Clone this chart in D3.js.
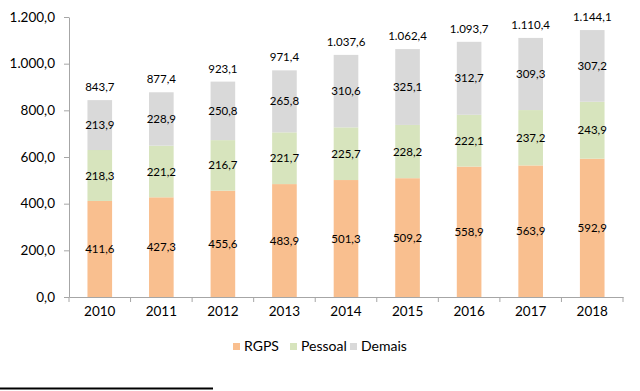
<!DOCTYPE html>
<html><head><meta charset="utf-8">
<script src="https://cdn.jsdelivr.net/npm/d3@7"></script>
<style>body{margin:0;background:#fff}svg{display:block}text{font-family:Lato,"Open Sans",sans-serif}</style>
</head><body>
<svg id="c" width="640" height="391"></svg>
<script>
const years = ["2010","2011","2012","2013","2014","2015","2016","2017","2018"];
const rgps = [411.6,427.3,455.6,483.9,501.3,509.2,558.9,563.9,592.9];
const pessoal = [218.3,221.2,216.7,221.7,225.7,228.2,222.1,237.2,243.9];
const demais = [213.9,228.9,250.8,265.8,310.6,325.1,312.7,309.3,307.2];
const totals = [843.7,877.4,923.1,971.4,1037.6,1062.4,1093.7,1110.4,1144.1];
const seriesNames = ["RGPS","Pessoal","Demais"];
const colors = ["#F9BF8F","#D7E4BD","#D9D9D9"];
const yTicks = [0,200,400,600,800,1000,1200];

const loc = d3.formatLocale({decimal:",",thousands:".",grouping:[3],currency:["R$",""]});
const fmt = loc.format(",.1f");

const svg = d3.select("#c");
const x = d3.scaleBand().domain(years).range([69,623]).paddingInner(0.6).paddingOuter(0.3);
const y = d3.scaleLinear().domain([0,1200]).range([297,17]);

const data = years.map((yr,i)=>({year:yr,RGPS:rgps[i],Pessoal:pessoal[i],Demais:demais[i],total:totals[i]}));
const stack = d3.stack().keys(seriesNames)(data);

// axes
const yAxis = svg.append("g").attr("transform","translate(69,0)")
  .call(d3.axisLeft(y).tickValues(yTicks).tickFormat(fmt).tickSize(5).tickSizeOuter(0));
yAxis.select(".domain").attr("stroke","#A6A6A6");
yAxis.selectAll(".tick line").attr("stroke","#A6A6A6");
yAxis.selectAll(".tick text").attr("font-size",13.5).attr("fill","#000").attr("x",-14);

const xb = d3.scaleBand().domain(years).range([69,623]);
const xAxis = svg.append("g").attr("transform","translate(0,297)")
  .call(d3.axisBottom(xb).tickSize(0));
xAxis.select(".domain").attr("stroke","#A6A6A6");
xAxis.selectAll(".tick text").attr("font-size",13.5).attr("fill","#000").attr("dy","1.2em");
// boundary ticks
svg.append("g").selectAll("line").data(years.concat(["end"])).join("line")
  .attr("x1",(d,i)=>69+i*xb.step()).attr("x2",(d,i)=>69+i*xb.step())
  .attr("y1",297).attr("y2",302).attr("stroke","#A6A6A6");

// bars
const g = svg.append("g");
stack.forEach((s,si)=>{
  g.append("g").selectAll("rect").data(s).join("rect")
    .attr("x",d=>x(d.data.year)).attr("width",x.bandwidth())
    .attr("y",d=>y(d[1])).attr("height",d=>y(d[0])-y(d[1]))
    .attr("fill",colors[si]);
  g.append("g").selectAll("text").data(s).join("text")
    .attr("x",d=>x(d.data.year)+x.bandwidth()/2)
    .attr("y",d=>(y(d[0])+y(d[1]))/2).attr("dy","0.35em")
    .attr("text-anchor","middle").attr("font-size",11.5).attr("fill","#000")
    .text(d=>fmt(d[1]-d[0]));
});
g.append("g").selectAll("text").data(data).join("text")
  .attr("x",d=>x(d.year)+x.bandwidth()/2).attr("y",d=>y(d.total)-13).attr("dy","0.35em")
  .attr("text-anchor","middle").attr("font-size",11.5).attr("fill","#000")
  .text(d=>fmt(d.total));

// legend
const legX = [233,290,350];
const leg = svg.append("g");
seriesNames.forEach((n,i)=>{
  leg.append("rect").attr("x",legX[i]).attr("y",343).attr("width",7).attr("height",7).attr("fill",colors[i]);
  leg.append("text").attr("x",legX[i]+11).attr("y",346.5).attr("dy","0.35em").attr("font-size",14).attr("fill","#000").text(n);
});

// bottom rule
svg.append("line").attr("x1",0).attr("x2",213).attr("y1",388.5).attr("y2",388.5).attr("stroke","#000").attr("stroke-width",2);
</script>
</body></html>
